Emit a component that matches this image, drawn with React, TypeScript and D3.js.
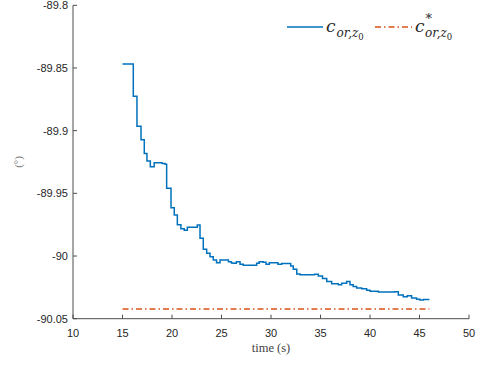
import React from "react";
import * as d3 from "d3";

const times = [15, 16.09, 16.46, 16.87, 17.2, 17.47, 17.81, 18.2, 19.0, 19.3, 19.46, 19.9, 20.23, 20.54, 20.9, 21.24, 21.55, 22.56, 22.83, 23.16, 23.5, 23.84, 24.17, 24.5, 24.85, 25.7, 26.0, 26.2, 26.5, 26.87, 27.2, 28.55, 28.8, 29.2, 29.5, 29.83, 30.7, 31.08, 31.99, 32.25, 32.6, 32.93, 34.4, 34.78, 35.2, 35.63, 36.13, 36.8, 37.14, 37.64, 37.98, 38.3, 38.65, 39.16, 39.66, 40.0, 40.84, 42.5, 42.86, 43.36, 43.77, 44.2, 44.7, 45.05, 45.4, 46.0];
const values = [-89.8468, -89.8726, -89.8965, -89.9072, -89.9183, -89.9242, -89.9287, -89.9255, -89.9262, -89.9268, -89.9459, -89.9614, -89.9672, -89.975, -89.9782, -89.9794, -89.977, -89.9752, -89.9858, -89.9946, -89.9978, -90.0005, -90.0031, -90.0053, -90.0031, -90.0045, -90.0055, -90.0058, -90.0045, -90.0065, -90.0073, -90.0058, -90.0045, -90.005, -90.0065, -90.0053, -90.0065, -90.006, -90.0079, -90.0105, -90.0143, -90.015, -90.0145, -90.0159, -90.018, -90.0204, -90.0222, -90.023, -90.0217, -90.0204, -90.023, -90.0243, -90.0256, -90.0262, -90.0273, -90.0281, -90.0288, -90.0286, -90.031, -90.0324, -90.0316, -90.0334, -90.0345, -90.035, -90.0347, -90.0347];
const refTimes = [15, 46];
const refValue = -90.0423;
const xTicks = [10, 15, 20, 25, 30, 35, 40, 45, 50];
const yTicks = [-89.8, -89.85, -89.9, -89.95, -90, -90.05];

export default function App() {
  const x = d3.scaleLinear().domain([10, 50]).range([73, 469]);
  const y = d3.scaleLinear().domain([-90.05, -89.8]).range([318.7, 5.3]);
  const pts: [number, number][] = times.map((t, i) => [t, values[i]]);
  const line = d3
    .line<[number, number]>()
    .x((d) => x(d[0]))
    .y((d) => y(d[1]))
    .curve(d3.curveStepAfter);
  const axisColor = "#4d4d4d";
  const textColor = "#262626";
  const blue = "#0072BD";
  const orange = "#D95319";
  const x0 = x(10), x1 = x(50), y0 = y(-90.05), y1 = y(-89.8);
  const fmtY = (v: number) => (v === -90 ? "-90" : String(v));
  const serif = "'DejaVu Serif', 'Liberation Serif', serif";
  return (
    <svg width={480} height={365} style={{ position: "absolute", left: 0, top: 0, background: "#fff" }}>
      <rect x={0} y={0} width={480} height={365} fill="#fff" />
      <line x1={x(refTimes[0])} x2={x(refTimes[1])} y1={y(refValue)} y2={y(refValue)} stroke={orange} strokeWidth={1.5} strokeDasharray="6,3,1.5,3" />
      <path d={line(pts) || ""} fill="none" stroke={blue} strokeWidth={1.5} />
      <line x1={x0} x2={x1} y1={y0} y2={y0} stroke={axisColor} strokeWidth={1} />
      <line x1={x0} x2={x0} y1={y0} y2={y1} stroke={axisColor} strokeWidth={1} />
      {xTicks.map((t) => (
        <g key={"xt" + t}>
          <line x1={x(t)} x2={x(t)} y1={y0} y2={y0 - 4} stroke={axisColor} />
          <text x={x(t)} y={y0 + 18} textAnchor="middle" fontFamily="'Liberation Sans', Arial, sans-serif" fontSize={11} fill={textColor}>{t}</text>
        </g>
      ))}
      {yTicks.map((v) => (
        <g key={"yt" + v}>
          <line x1={x0} x2={x0 + 4} y1={y(v)} y2={y(v)} stroke={axisColor} />
          <text x={x0 - 5} y={y(v) + 4} textAnchor="end" fontFamily="'Liberation Sans', Arial, sans-serif" fontSize={11} fill={textColor}>{fmtY(v)}</text>
        </g>
      ))}
      <text x={(x0 + x1) / 2} y={352} textAnchor="middle" fontFamily="'Liberation Serif', 'Times New Roman', serif" fontSize={12.5} fill="#444">time (s)</text>
      <text transform={`translate(22, ${(y0 + y1) / 2}) rotate(-90)`} textAnchor="middle" fontFamily="'Liberation Serif', 'Times New Roman', serif" fontSize={11} fill="#777">(°)</text>
      <line x1={287} x2={323} y1={27} y2={27} stroke={blue} strokeWidth={1.5} />
      <text x={326} y={32} fontFamily={serif} fontStyle="italic" fontSize={17} fill={textColor}>
        c<tspan fontSize={12} dx={1} dy={5}>or,z</tspan><tspan fontSize={8.5} dy={3} fontStyle="normal">0</tspan>
      </text>
      <line x1={375} x2={412} y1={27} y2={27} stroke={orange} strokeWidth={1.5} strokeDasharray="6,3,1.5,3" />
      <text x={415} y={32} fontFamily={serif} fontStyle="italic" fontSize={17} fill={textColor}>
        c<tspan fontSize={13} dx={1} dy={-9} fontStyle="normal">*</tspan><tspan fontSize={12} dx={-7} dy={14}>or,z</tspan><tspan fontSize={8.5} dy={3} fontStyle="normal">0</tspan>
      </text>
    </svg>
  );
}
